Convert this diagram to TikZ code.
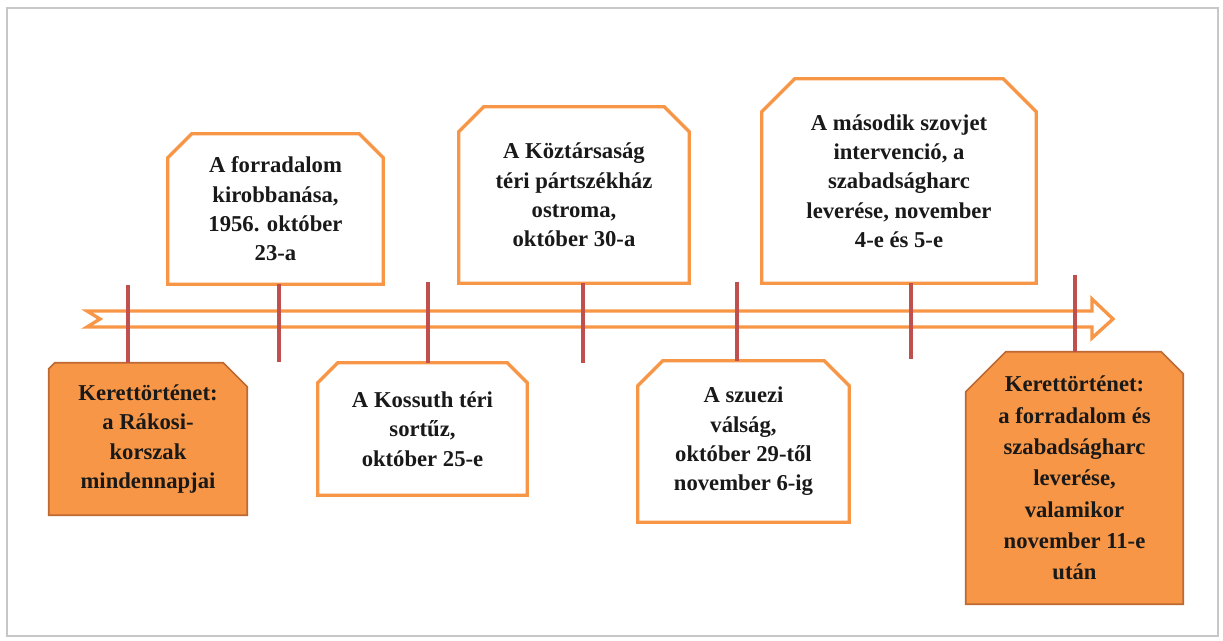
\documentclass[tikz,border=0pt]{standalone}
\usepackage{fontspec}
\setmainfont{Liberation Serif}
\usepackage{tikz}
\usetikzlibrary{calc,positioning,backgrounds}

\definecolor{evorange}{RGB}{247,150,70}
\definecolor{evbrown}{RGB}{190,105,50}
\definecolor{tickred}{RGB}{192,80,77}

% outline of a box with snipped top corners: node, left cut, right cut, style
\newcommand{\snipoutline}[4]{%
  \draw[#4] (#1.south west) -- ([yshift=-#2]#1.north west) -- ([xshift=#2]#1.north west)
    -- ([xshift=-#3]#1.north east) -- ([yshift=-#3]#1.north east) -- (#1.south east) -- cycle;}

\begin{document}
\begin{tikzpicture}[x=0.75pt, y=-0.75pt, line join=miter, font=\fontsize{17}{22}\selectfont\bfseries]
% Define styles for boxes, ticks and the time arrow
\tikzstyle{box} = [rectangle, inner sep=0pt, align=center, text=black!90]
\tikzstyle{eventline} = [draw=evorange, line width=2.5pt, fill=white]
\tikzstyle{frameline} = [draw=evbrown, line width=1.2pt, fill=evorange]
\tikzstyle{tick} = [draw=tickred, line width=3pt]
\tikzstyle{timeline} = [draw=evorange, line width=2.5pt, fill=white]

\useasboundingbox (0,0) rectangle (1223,641);
\draw[black!22, line width=2pt] (7,8) rectangle (1218,636);

% Time arrow
\coordinate (tail) at (87,319);
\coordinate (tip) at (1113,319);
\draw[timeline] (tail) ++(0,-8) -- ($(tip)+(-21,-8)$) -- ($(tip)+(-21,-20)$) -- (tip)
  -- ($(tip)+(-21,19)$) -- ($(tip)+(-21,8)$) -- ($(tail)+(0,8)$) -- ($(tail)+(13,0)$) -- cycle;

% Nodes placement
\node [box, minimum width=161.25pt, minimum height=112.5pt] (forradalom) at (275.5,209)
  {A forradalom\\ kirobbanása,\\ 1956. október\\ 23-a};
\node [box, minimum width=172.5pt, minimum height=132pt] (koztarsasag) at (574,195)
  {A Köztársaság\\ téri pártszékház\\ ostroma,\\ október 30-a};
\node [box, minimum width=205.5pt, minimum height=153pt] (masodik) at (899,181)
  {A második szovjet\\ intervenció, a\\ szabadságharc\\ leverése, november\\ 4-e és 5-e};
\node [box, minimum width=148.5pt, minimum height=114pt] (rakosi) at (148,439)
  {Kerettörténet:\\ a Rákosi-\\ korszak\\ mindennapjai};
\node [box, minimum width=156.75pt, minimum height=99pt] (kossuth) at (422.5,429)
  {A Kossuth téri\\ sortűz,\\ október 25-e};
\node [box, minimum width=158.25pt, minimum height=120.75pt] (szuezi) at (743.5,441.5)
  {A szuezi\\ válság,\\ október 29-től\\ november 6-ig};
\node [box, minimum width=162.75pt, minimum height=189pt, font=\fontsize{17}{23.5}\selectfont\bfseries] (leveres) at (1074.5,478)
  {Kerettörténet:\\ a forradalom és\\ szabadságharc\\ leverése,\\ valamikor\\ november 11-e\\ után};

% Box outlines behind the texts
\begin{scope}[on background layer]
\snipoutline{forradalom}{18pt}{18pt}{eventline}
\snipoutline{koztarsasag}{18.75pt}{18.75pt}{eventline}
\snipoutline{masodik}{24.75pt}{24.75pt}{eventline}
\snipoutline{kossuth}{15pt}{15pt}{eventline}
\snipoutline{szuezi}{18.75pt}{18.75pt}{eventline}
\snipoutline{rakosi}{4.5pt}{18pt}{frameline}
\snipoutline{leveres}{30pt}{16.5pt}{frameline}
\end{scope}

% Ticks
\coordinate (e1) at (128,285);
\coordinate (e2) at (279,362);
\coordinate (e3) at (428,282);
\coordinate (e4) at (583,363);
\coordinate (e5) at (737,282);
\coordinate (e6) at (911,359);
\coordinate (e7) at (1075,275);
\draw[tick] (e1) -- (e1 |- rakosi.north);
\draw[tick] (e2 |- forradalom.south) -- (e2);
\draw[tick] (e3) -- (e3 |- kossuth.north);
\draw[tick] (e4 |- koztarsasag.south) -- (e4);
\draw[tick] (e5) -- (e5 |- szuezi.north);
\draw[tick] (e6 |- masodik.south) -- (e6);
\draw[tick] (e7) -- (e7 |- leveres.north);
\end{tikzpicture}
\end{document}
